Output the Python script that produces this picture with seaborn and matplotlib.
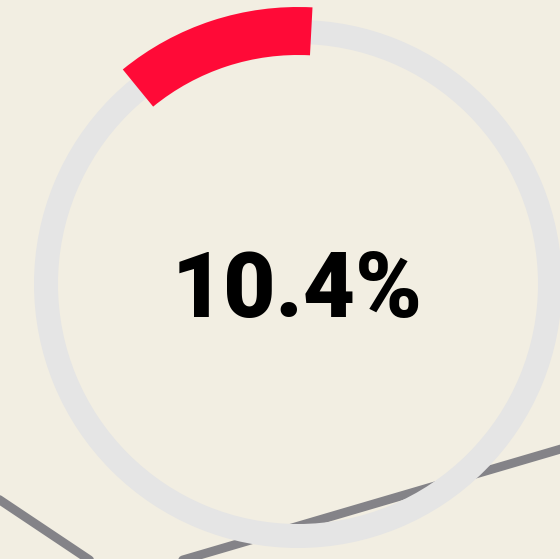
import matplotlib.pyplot as plt
import seaborn as sns
import pandas as pd
from matplotlib.patches import Wedge

# gauge value (percent)
value = 10.4
label = "10.4%"

# background trend line behind the gauge (pixel-space x, pixel-space y from top)
trend_x = [-60, 118, 600]
trend_y_px = [460, 579, 437.5]

W, H = 560, 559
bg = "#f2eee2"
ring_color = "#e5e5e5"
red = "#ff0a37"
line_color = "#848388"

sns.set_theme(style="white")
plt.rcParams["font.family"] = ["Roboto", "DejaVu Sans"]

fig = plt.figure(figsize=(W / 100, H / 100), dpi=100, facecolor=bg)
ax = fig.add_axes([0, 0, 1, 1])
ax.set_facecolor(bg)
ax.set_xlim(0, W)
ax.set_ylim(0, H)
ax.set_aspect("equal")
ax.axis("off")

df = pd.DataFrame({"x": trend_x, "y": [H - v for v in trend_y_px]})
sns.lineplot(data=df, x="x", y="y", ax=ax, color=line_color, linewidth=6.4,
             sort=False, estimator=None, zorder=1)
ax.set_xlim(0, W)
ax.set_ylim(0, H)

cx, cy = 298, H - 284

# full grey ring
ax.add_patch(Wedge((cx, cy), 264, 0, 360, width=24, facecolor=ring_color,
                   edgecolor="none", zorder=2))

# red arc for the value, starting just right of 12 o'clock, sweeping counter-clockwise
start = 87
end = 90 + value / 100 * 360 + 1.8
ax.add_patch(Wedge((cx, cy), 277, start, end, width=48, facecolor=red,
                   edgecolor="none", zorder=3))

ax.text(297.5, H - 317, label, ha="center", va="baseline", fontsize=65,
        fontweight="black", color="black", zorder=4)

fig.savefig("out.png", dpi=100, facecolor=bg)
